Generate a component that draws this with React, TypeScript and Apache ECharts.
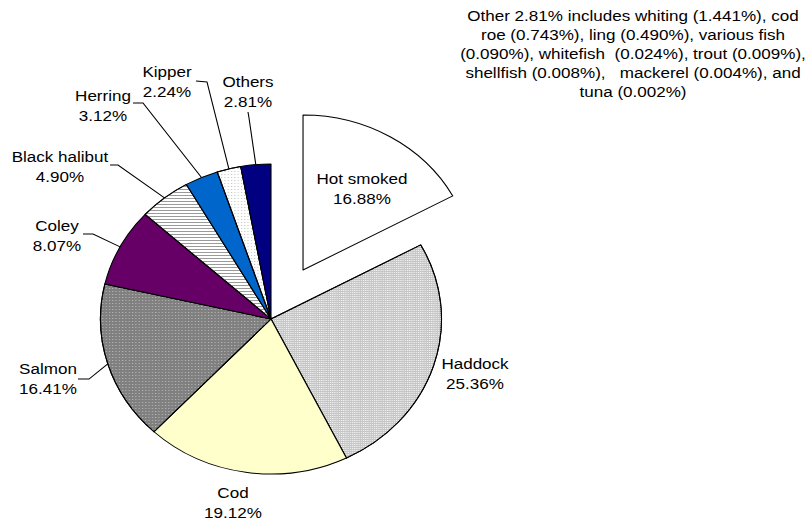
import React, { useEffect, useRef } from "react";
import * as echarts from "echarts";

// Share of smoked fish products, by species (%)
const categories = [
  "Hot smoked",
  "Haddock",
  "Cod",
  "Salmon",
  "Coley",
  "Black halibut",
  "Herring",
  "Kipper",
  "Others",
];
const shares = [16.88, 25.36, 19.12, 16.41, 8.07, 4.9, 3.12, 2.24, 2.81];

const noteLines = [
  "Other 2.81% includes whiting (1.441%), cod",
  "roe (0.743%), ling (0.490%), various fish",
  "(0.090%), whitefish  (0.024%), trout (0.009%),",
  "shellfish (0.008%),   mackerel (0.004%), and",
  "tuna (0.002%)",
];

// The drawing is laid out in a narrower box and stretched horizontally.
const STRETCH = 1.1;
const CHART_W = 808 / STRETCH;
const sx = (x: number) => x / STRETCH;

const FONT = "'Liberation Sans', Arial, Helvetica, sans-serif";
const FONT_SIZE = 15.5;

const labelText = (i: number) => `${categories[i]}\n${shares[i].toFixed(2)}%`;

// Fills and textures for each slice
const dots = (color: string, gap: number) => ({
  symbol: "rect",
  symbolSize: 1,
  symbolKeepAspect: false,
  rotation: 0,
  dashArrayX: [1, gap],
  dashArrayY: [1, gap],
  color,
});
const sliceStyles: Record<string, any> = {
  "Hot smoked": { color: "#ffffff" },
  Haddock: { color: "#c6c6c6", decal: dots("#f4f4f4", 1) },
  Cod: { color: "#ffffcc" },
  Salmon: { color: "#808080", decal: dots("#b8b8b8", 2) },
  Coley: { color: "#660066" },
  "Black halibut": {
    color: "#ffffff",
    decal: {
      symbol: "rect",
      symbolSize: 1,
      symbolKeepAspect: false,
      rotation: 0,
      dashArrayX: [1, 0],
      dashArrayY: [1, 2],
      color: "#9a9a9a",
    },
  },
  Herring: { color: "#0066cc" },
  Kipper: { color: "#ffffff", decal: dots("#c4c4c4", 2) },
  Others: { color: "#000080" },
};

// Label centres and leader-line start/elbow points (in layout coordinates)
const labelSpots: Record<string, { x: number; y: number; line?: number[][] }> = {
  "Hot smoked": { x: sx(362), y: 188 },
  Haddock: { x: sx(475), y: 373 },
  Cod: { x: sx(233), y: 502 },
  Salmon: { x: sx(48), y: 378, line: [[sx(78), 379], [sx(89), 379]] },
  Coley: { x: sx(57), y: 235, line: [[sx(83), 234], [sx(93), 234]] },
  "Black halibut": { x: sx(60), y: 166, line: [[sx(110), 165], [sx(118), 165]] },
  Herring: { x: sx(103), y: 105, line: [[sx(133), 103], [sx(143), 103]] },
  Kipper: { x: sx(167), y: 81, line: [[sx(196), 81], [sx(207), 82]] },
  Others: { x: sx(248), y: 91, line: [[sx(248), 112], [sx(249), 118]] },
};

export default function App() {
  const ref = useRef<HTMLDivElement>(null);

  useEffect(() => {
    if (!ref.current) return;
    const chart = echarts.init(ref.current, undefined, { renderer: "svg" });

    // the exploded slice carries its label inside, drawn as a free text
    const explodedIndex = 0;

    const data = categories.map((name, i) => ({
      name,
      value: shares[i],
      selected: i === explodedIndex,
      itemStyle: { ...sliceStyles[name], borderColor: "#000", borderWidth: 1 },
      label: { show: i !== explodedIndex },
      labelLine: { show: !!labelSpots[name].line },
    }));

    const hot = labelSpots[categories[explodedIndex]];

    chart.setOption({
      animation: false,
      backgroundColor: "#ffffff",
      textStyle: { fontFamily: FONT },
      series: [
        {
          type: "pie",
          center: [sx(271), 319],
          radius: 155,
          startAngle: 90,
          clockwise: true,
          selectedMode: "single",
          selectedOffset: 57,
          avoidLabelOverlap: false,
          silent: true,
          data,
          select: {
            itemStyle: { borderColor: "#000", borderWidth: 1 },
          },
          label: {
            show: true,
            position: "outside",
            color: "#000",
            fontFamily: FONT,
            fontSize: FONT_SIZE,
            lineHeight: 20,
            align: "center",
            formatter: (p: any) => labelText(p.dataIndex),
          },
          labelLine: {
            show: true,
            lineStyle: { color: "#000", width: 1 },
          },
          labelLayout: (params: any) => {
            const name = categories[params.dataIndex];
            const spot = labelSpots[name];
            const out: any = {
              x: spot.x,
              y: spot.y,
              align: "center",
              verticalAlign: "middle",
            };
            if (spot.line && params.labelLinePoints) {
              const anchor = params.labelLinePoints[0];
              out.labelLinePoints = [spot.line[0], spot.line[1], anchor];
            }
            return out;
          },
        },
      ],
      graphic: [
        {
          type: "text",
          x: hot.x,
          y: hot.y,
          z: 100,
          silent: true,
          style: {
            text: labelText(explodedIndex),
            fill: "#000",
            font: `${FONT_SIZE}px ${FONT}`,
            lineHeight: 20,
            align: "center",
            verticalAlign: "middle",
          },
        },
        {
          type: "text",
          x: sx(633),
          y: 6,
          z: 100,
          silent: true,
          style: {
            text: noteLines.join("\n"),
            fill: "#000",
            font: `${FONT_SIZE}px ${FONT}`,
            lineHeight: 19,
            align: "center",
            verticalAlign: "top",
          },
        },
      ],
    });

    return () => chart.dispose();
  }, []);

  return (
    <div
      ref={ref}
      style={{
        position: "absolute",
        left: 0,
        top: 0,
        width: CHART_W,
        height: 524,
        transform: `scaleX(${STRETCH})`,
        transformOrigin: "0 0",
        background: "#fff",
      }}
    />
  );
}
